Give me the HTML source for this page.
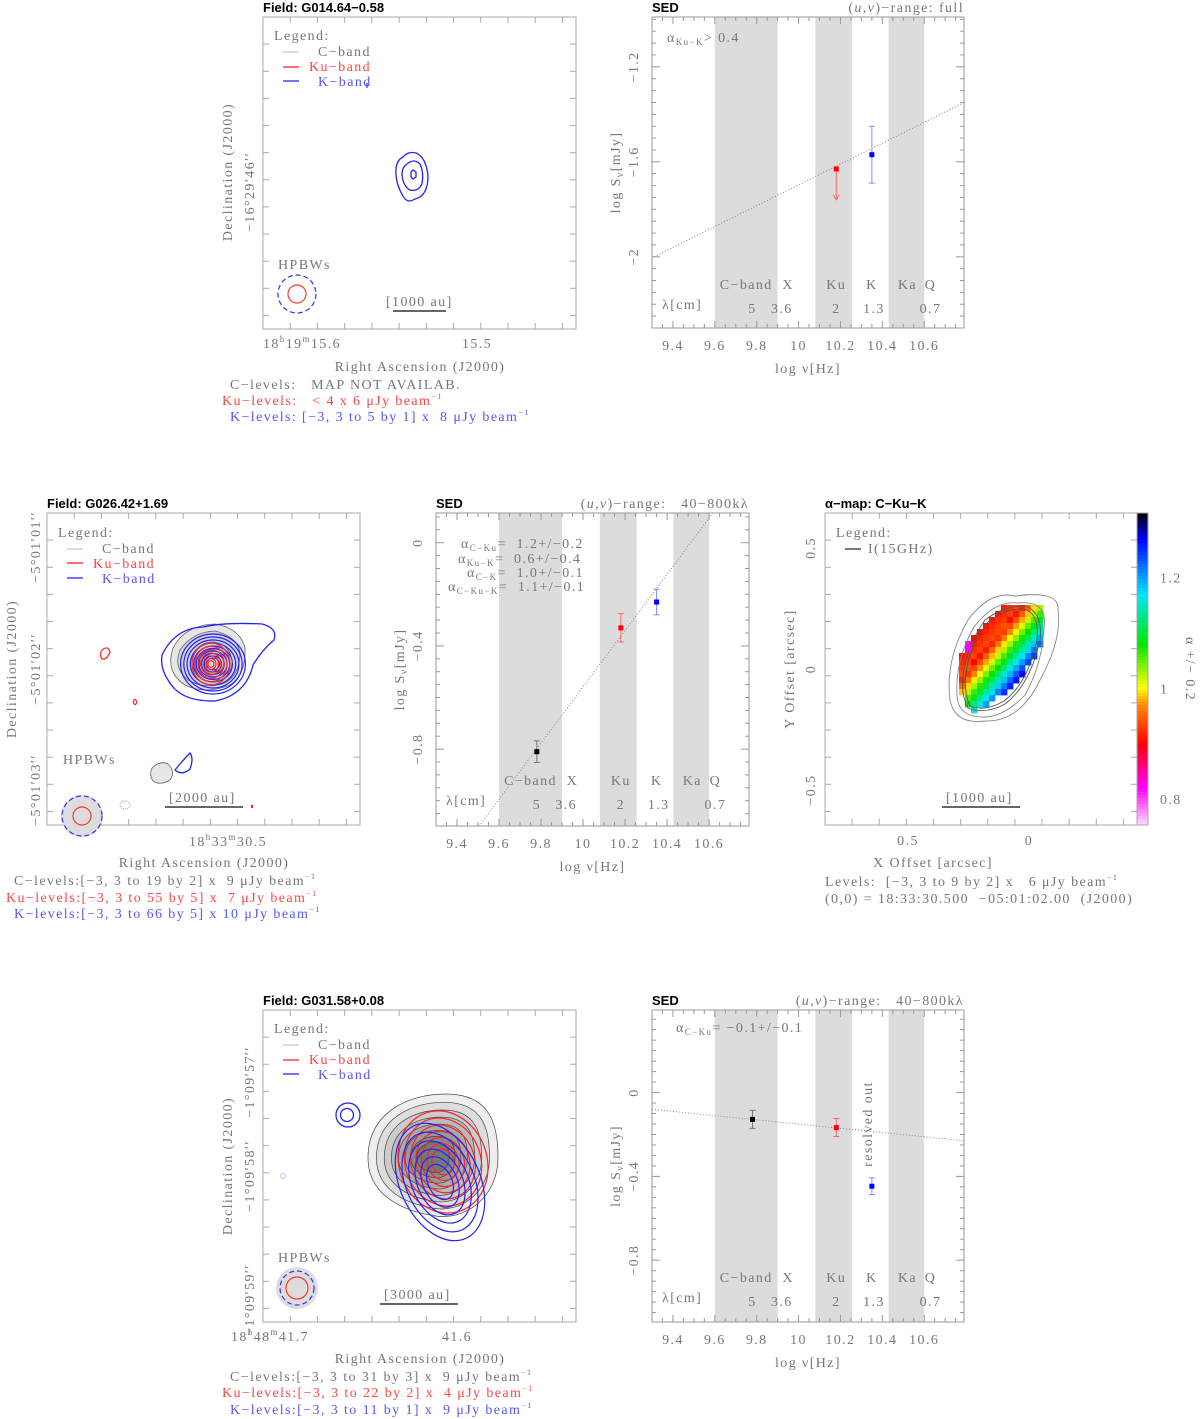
<!DOCTYPE html>
<html><head><meta charset="utf-8">
<style>
html,body{margin:0;padding:0;background:#fff;}
svg{display:block;font-family:"Liberation Serif",serif;}
text{white-space:pre;}
.t{fill:#777;font-size:14px;letter-spacing:1.4px;}
.b{fill:#000;font-size:13px;font-weight:bold;font-family:"Liberation Sans",sans-serif;}
.r{fill:#f44;}
.bl{fill:#55f;}
</style></head>
<body>
<svg id="fig" width="1200" height="1419" viewBox="0 0 1200 1419" xmlns="http://www.w3.org/2000/svg" xml:space="preserve">
<g id="maps"></g>
<g id="seds"></g>

<!-- ===== Panel 1 map ===== -->
<g>
 <text class="b" x="263" y="12">Field: G014.64−0.58</text>
 <rect x="263" y="17" width="313" height="312" fill="none" stroke="#aaa"/>
 <g id="ticks1"></g>
 <text class="t" x="274" y="40">Legend:</text>
 <line x1="283" y1="52" x2="299" y2="52" stroke="#bbb"/>
 <text class="t" x="318" y="56">C−band</text>
 <line x1="283" y1="67" x2="299" y2="67" stroke="#f44" stroke-width="1.5"/>
 <text class="t r" x="309" y="71">Ku−band</text>
 <line x1="283" y1="81" x2="299" y2="81" stroke="#44f" stroke-width="1.5"/>
 <text class="t bl" x="318" y="86">K−band</text>
 <line x1="367" y1="83" x2="367" y2="88" stroke="#22f" stroke-width="1.2"/>
 <g fill="none" stroke="#22f" stroke-width="1.3">
  <path d="M403,157 Q408,151 416,153 Q426,157 428,176 Q428,196 415,199 Q407,204 403,196 Q395,183 396,168 Q397,160 403,157Z"/>
  <path d="M407,164 Q414,158 420,164 Q424,172 422,184 Q418,192 410,190 Q403,186 402,175 Q402,167 407,164Z"/>
  <path d="M413,170 L416,172 L416,177 L413,179 L411,177 L411,172Z"/>
 </g>
 <text class="t" x="278" y="269">HPBWs</text>
 <circle cx="297" cy="294" r="19" fill="none" stroke="#33f" stroke-dasharray="5,3" stroke-width="1.2"/>
 <circle cx="297" cy="294" r="9" fill="none" stroke="#f33" stroke-width="1.2"/>
 <text class="t" x="386" y="306">[1000 au]</text>
 <line x1="393" y1="311" x2="446" y2="311" stroke="#333" stroke-width="1.5"/>
 <text class="t" x="302" y="348" text-anchor="middle">18<tspan font-size="9" dy="-6">h</tspan><tspan dy="6">19</tspan><tspan font-size="9" dy="-6">m</tspan><tspan dy="6">15.6</tspan></text>
 <text class="t" x="477" y="348" text-anchor="middle">15.5</text>
 <text class="t" x="420" y="371" text-anchor="middle" font-size="15">Right Ascension (J2000)</text>
 <text class="t" transform="translate(232,172) rotate(-90)" text-anchor="middle" font-size="15">Declination (J2000)</text>
 <text class="t" transform="translate(254,192) rotate(-90)" text-anchor="middle">−16°29′46′′</text>
 <text class="t" x="230" y="389" font-size="12.5">C−levels:   MAP NOT AVAILAB.</text>
 <text class="t r" x="222" y="405" font-size="12.5">Ku−levels:   &lt; 4 x 6 μJy beam<tspan font-size="8" dy="-6">−1</tspan></text>
 <text class="t bl" x="230" y="421" font-size="12.5">K−levels: [−3, 3 to 5 by 1] x  8 μJy beam<tspan font-size="8" dy="-6">−1</tspan></text>
</g>

<!-- ===== Panel 2 map ===== -->
<g>
 <text class="b" x="47" y="508">Field: G026.42+1.69</text>
 <rect x="47" y="513" width="313" height="312" fill="none" stroke="#aaa"/>
 <g id="ticks2"></g>
 <text class="t" x="58" y="537">Legend:</text>
 <line x1="67" y1="549" x2="83" y2="549" stroke="#bbb"/>
 <text class="t" x="102" y="553">C−band</text>
 <line x1="67" y1="563" x2="83" y2="563" stroke="#f44" stroke-width="1.5"/>
 <text class="t r" x="93" y="568">Ku−band</text>
 <line x1="67" y1="578" x2="83" y2="578" stroke="#44f" stroke-width="1.5"/>
 <text class="t bl" x="102" y="583">K−band</text>
 <g>
  <path d="M173,648 Q185,625 215,624 Q240,628 245,648 Q246,675 230,685 Q205,695 185,685 Q165,672 173,648Z" fill="#e6e6e6" stroke="#666" stroke-width="0.8"/>
  <path d="M180,650 Q192,632 215,631 Q236,636 240,652 Q240,675 225,683 Q205,690 188,680 Q173,668 180,650Z" fill="#d4d4d4" stroke="#666" stroke-width="0.8"/>
  <path d="M162,655 Q175,628 203,627 Q225,622 262,624 Q278,628 274,640 Q262,650 253,665 Q246,695 215,701 Q180,702 168,680 Q160,668 162,655Z" fill="none" stroke="#22f" stroke-width="1.3"/>
  <g id="c2rings" fill="none"></g>
  <path d="M102,650 Q108,645 110,652 Q107,660 102,659 Q99,655 102,650Z" fill="none" stroke="#f22" stroke-width="1.2"/>
  <ellipse cx="135" cy="702" rx="1.5" ry="2.5" fill="none" stroke="#f22" stroke-width="1.2"/>
  <path d="M152,768 Q160,760 168,764 Q176,772 170,780 Q160,786 153,781 Q149,775 152,768Z" fill="#e6e6e6" stroke="#666" stroke-width="0.8"/>
  <path d="M175,770 Q183,760 190,753 Q194,758 190,769 Q182,776 175,770Z" fill="none" stroke="#22f" stroke-width="1.3"/>
  <ellipse cx="125" cy="805" rx="5" ry="4" fill="none" stroke="#99f" stroke-dasharray="1,1"/>
  <rect x="251" y="805" width="2" height="3" fill="#f22"/>
 </g>
 <text class="t" x="63" y="764">HPBWs</text>
 <circle cx="82" cy="816" r="21" fill="#ddd"/>
 <circle cx="82" cy="816" r="20" fill="none" stroke="#33f" stroke-dasharray="5,3" stroke-width="1.2"/>
 <circle cx="82" cy="816" r="9" fill="none" stroke="#f33" stroke-width="1.2"/>
 <text class="t" x="169" y="802">[2000 au]</text>
 <line x1="165" y1="807" x2="243" y2="807" stroke="#333" stroke-width="1.5"/>
 <text class="t" x="228" y="846" text-anchor="middle">18<tspan font-size="9" dy="-6">h</tspan><tspan dy="6">33</tspan><tspan font-size="9" dy="-6">m</tspan><tspan dy="6">30.5</tspan></text>
 <text class="t" x="204" y="867" text-anchor="middle" font-size="15">Right Ascension (J2000)</text>
 <text class="t" transform="translate(16,669) rotate(-90)" text-anchor="middle" font-size="15">Declination (J2000)</text>
 <text class="t" transform="translate(40,547) rotate(-90)" text-anchor="middle">−5°01′01′′</text>
 <text class="t" transform="translate(40,669) rotate(-90)" text-anchor="middle">−5°01′02′′</text>
 <text class="t" transform="translate(40,790) rotate(-90)" text-anchor="middle">−5°01′03′′</text>
 <text class="t" x="14" y="885" font-size="12.5">C−levels:[−3, 3 to 19 by 2] x  9 μJy beam<tspan font-size="8" dy="-6">−1</tspan></text>
 <text class="t r" x="6" y="902" font-size="12.5">Ku−levels:[−3, 3 to 55 by 5] x  7 μJy beam<tspan font-size="8" dy="-6">−1</tspan></text>
 <text class="t bl" x="14" y="918" font-size="12.5">K−levels:[−3, 3 to 66 by 5] x 10 μJy beam<tspan font-size="8" dy="-6">−1</tspan></text>
</g>

<!-- ===== Alpha map ===== -->
<g>
 <text class="b" x="825" y="508">α−map: C−Ku−K</text>
 <rect x="825" y="513" width="312" height="312" fill="none" stroke="#aaa"/>
 <g id="ticks3"></g>
 <g id="alphaPix"></g>
 <g fill="none" stroke="#888" stroke-width="0.9">
  <path d="M968,620 Q990,590 1015,596 Q1060,590 1058,610 Q1062,640 1040,680 Q1020,722 985,721 Q955,725 950,700 Q945,660 968,620Z"/>
  <path d="M974,627 Q995,600 1018,603 Q1048,600 1044,628 Q1042,665 1025,695 Q1005,716 985,717 Q958,718 957,695 Q955,660 974,627Z"/>
  <path d="M985,620 Q1005,605 1025,606 Q1043,612 1040,640 Q1030,685 1005,704 Q985,715 968,708 Q958,690 966,660 Q972,638 985,620Z" stroke="#555"/>
  <path d="M988,622 Q1006,608 1024,609 Q1040,614 1037,640 Q1028,683 1004,701 Q985,712 970,706 Q962,690 968,662 Q974,640 988,622Z" stroke="#555"/>
 </g>
 <text class="t" x="836" y="537">Legend:</text>
 <line x1="845" y1="549" x2="861" y2="549" stroke="#222" stroke-width="1.2"/>
 <text class="t" x="868" y="553">I(15GHz)</text>
 <text class="t" x="946" y="802">[1000 au]</text>
 <line x1="942" y1="807" x2="1020" y2="807" stroke="#333" stroke-width="1.5"/>
 <g id="cbar"></g>
 <text class="t" transform="translate(1186,669) rotate(90)" text-anchor="middle">α +/− 0.2</text>
 <text class="t" x="908" y="845" text-anchor="middle">0.5</text>
 <text class="t" x="1029" y="845" text-anchor="middle">0</text>
 <text class="t" x="933" y="867" text-anchor="middle" font-size="15">X Offset [arcsec]</text>
 <text class="t" transform="translate(794,669) rotate(-90)" text-anchor="middle" font-size="15">Y Offset [arcsec]</text>
 <text class="t" transform="translate(815,548) rotate(-90)" text-anchor="middle">0.5</text>
 <text class="t" transform="translate(815,669) rotate(-90)" text-anchor="middle">0</text>
 <text class="t" transform="translate(815,790) rotate(-90)" text-anchor="middle">−0.5</text>
 <text class="t" x="825" y="886" font-size="12.5">Levels:  [−3, 3 to 9 by 2] x   6 μJy beam<tspan font-size="8" dy="-6">−1</tspan></text>
 <text class="t" x="825" y="903" font-size="12.5">(0,0) = 18:33:30.500  −05:01:02.00  (J2000)</text>
</g>

<!-- ===== Panel 3 map ===== -->
<g>
 <text class="b" x="263" y="1005">Field: G031.58+0.08</text>
 <rect x="263" y="1010" width="313" height="312" fill="none" stroke="#aaa"/>
 <g id="ticks4"></g>
 <text class="t" x="274" y="1033">Legend:</text>
 <line x1="283" y1="1045" x2="299" y2="1045" stroke="#bbb"/>
 <text class="t" x="318" y="1049">C−band</text>
 <line x1="283" y1="1060" x2="299" y2="1060" stroke="#f44" stroke-width="1.5"/>
 <text class="t r" x="309" y="1064">Ku−band</text>
 <line x1="283" y1="1074" x2="299" y2="1074" stroke="#44f" stroke-width="1.5"/>
 <text class="t bl" x="318" y="1079">K−band</text>
 <g id="c4rings"></g>
 <circle cx="348" cy="1115" r="12" fill="none" stroke="#22f" stroke-width="1.3"/>
 <circle cx="347" cy="1115" r="6.5" fill="none" stroke="#22f" stroke-width="1.3"/>
 <circle cx="283" cy="1176" r="2.5" fill="none" stroke="#bbf"/>
 <text class="t" x="278" y="1262">HPBWs</text>
 <circle cx="297" cy="1288" r="21" fill="#ddd"/>
 <circle cx="297" cy="1288" r="17" fill="none" stroke="#33f" stroke-dasharray="5,3" stroke-width="1.2"/>
 <circle cx="297" cy="1288" r="11" fill="none" stroke="#f33" stroke-width="1.2"/>
 <text class="t" x="384" y="1299">[3000 au]</text>
 <line x1="380" y1="1304" x2="458" y2="1304" stroke="#333" stroke-width="1.5"/>
 <text class="t" x="270" y="1341" text-anchor="middle">18<tspan font-size="9" dy="-6">h</tspan><tspan dy="6">48</tspan><tspan font-size="9" dy="-6">m</tspan><tspan dy="6">41.7</tspan></text>
 <text class="t" x="457" y="1341" text-anchor="middle">41.6</text>
 <text class="t" x="420" y="1363" text-anchor="middle" font-size="15">Right Ascension (J2000)</text>
 <text class="t" transform="translate(232,1166) rotate(-90)" text-anchor="middle" font-size="15">Declination (J2000)</text>
 <text class="t" transform="translate(254,1082) rotate(-90)" text-anchor="middle">−1°09′57′′</text>
 <text class="t" transform="translate(254,1176) rotate(-90)" text-anchor="middle">−1°09′58′′</text>
 <text class="t" transform="translate(254,1300) rotate(-90)" text-anchor="middle">−1°09′59′′</text>
 <text class="t" x="230" y="1381" font-size="12.5">C−levels:[−3, 3 to 31 by 3] x  9 μJy beam<tspan font-size="8" dy="-6">−1</tspan></text>
 <text class="t r" x="222" y="1397" font-size="12.5">Ku−levels:[−3, 3 to 22 by 2] x  4 μJy beam<tspan font-size="8" dy="-6">−1</tspan></text>
 <text class="t bl" x="230" y="1414" font-size="12.5">K−levels:[−3, 3 to 11 by 1] x  9 μJy beam<tspan font-size="8" dy="-6">−1</tspan></text>
</g>
</svg>

<script>
// ---------- SED data ----------
const bandNames = ["C−band","X","Ku","K","Ka","Q"];
const bandNameFreq = [9.75,9.95,10.18,10.35,10.52,10.63];
const lambdaLabels = ["5","3.6","2","1.3","0.7"];
const lambdaFreq = [9.78,9.92,10.18,10.36,10.63];
const shadeStart = [9.6,10.08,10.43];
const shadeEnd = [9.9,10.255,10.6];
const xTicks = [9.4,9.6,9.8,10,10.2,10.4,10.6];

const sed1Freq = [10.18,10.35];
const sed1Flux = [-1.63,-1.57];
const sed1Err  = [0,0.12];
const sed1Color = ["#f00","#00f"];
const sed1Upper = [true,false];
const sed1Line = [[9.31,-2.0],[10.80,-1.346]];
const sed1YTicks = [-2,-1.6,-1.2];

const sed2Freq = [9.78,10.18,10.35];
const sed2Flux = [-0.81,-0.33,-0.23];
const sed2Err  = [0.042,0.055,0.05];
const sed2Line = [[9.505,-1.098],[10.618,0.115]];
const sed2YTicks = [-0.8,-0.4,0];

const sed3Freq = [9.78,10.18,10.35];
const sed3Flux = [-0.128,-0.167,-0.447];
const sed3Err  = [0.043,0.043,0.04];
const sed3Line = [[9.3,-0.08],[10.79,-0.23]];
const sed3YTicks = [-0.8,-0.4,0];

const NS="http://www.w3.org/2000/svg";
function mk(parent,tag,attrs,text){
  const e=document.createElementNS(NS,tag);
  for(const k in attrs) e.setAttribute(k,attrs[k]);
  if(text!==undefined) e.textContent=text;
  parent.appendChild(e); return e;
}
function sed(id,box,yr,freq,flux,err,colors,upper,line,yticks,rangeTxt,alphaLines){
  const g=mk(document.getElementById('seds'),'g',{});
  
  
  const [L,T,W,H]=box, xr=[9.3,10.79];
  const X=v=>L+(v-xr[0])/(xr[1]-xr[0])*W;
  const Y=v=>T+(yr[1]-v)/(yr[1]-yr[0])*H;
  for(let i=0;i<shadeStart.length;i++){
    const r=mk(g,'rect',{x:X(shadeStart[i]),y:T,width:X(shadeEnd[i])-X(shadeStart[i]),height:H,fill:'#dcdcdc'});
    
    
  }
  const fr=mk(g,'rect',{x:L,y:T,width:W,height:H,fill:'none',stroke:'#999'});
  
  
  for(let v=9.3;v<=10.79;v+=0.05){
    const len=(Math.abs((v*10)%2)<0.01||Math.abs((v*10)%2-2)<0.01)?7:4;
    mk(g,'line',{x1:X(v),y1:T+H,x2:X(v),y2:T+H-len,stroke:'#999'});
    mk(g,'line',{x1:X(v),y1:T,x2:X(v),y2:T+len,stroke:'#999'});
  }
  const step=0.05;
  for(let v=Math.ceil(yr[0]/step)*step;v<=yr[1];v+=step){
    const maj=yticks.some(t=>Math.abs(t-v)<1e-6);
    const len=maj?8:4;
    mk(g,'line',{x1:L,y1:Y(v),x2:L+len,y2:Y(v),stroke:'#999'});
    mk(g,'line',{x1:L+W,y1:Y(v),x2:L+W-len,y2:Y(v),stroke:'#999'});
  }
  xTicks.forEach(v=>{
    const t=mk(g,'text',{x:X(v),y:T+H+22,class:'t','text-anchor':'middle'},String(v));
    
    
  });
  yticks.forEach(v=>{
    const t=mk(g,'text',{class:'t','text-anchor':'middle',transform:`translate(${L-14},${Y(v)}) rotate(-90)`},v===0?'0':String(v).replace('-','−'));
    
    
  });
  const xt=mk(g,'text',{x:L+W/2,y:T+H+45,class:'t','text-anchor':'middle','font-size':15},'log ν[Hz]');
  
  
  const yt=mk(g,'text',{class:'t','text-anchor':'middle','font-size':15,transform:`translate(${L-32},${T+H/2}) rotate(-90)`});
  yt.innerHTML='log S<tspan font-size="10" dy="3">ν</tspan><tspan dy="-3">[mJy]</tspan>';
  
  
  const ti=mk(g,'text',{x:L,y:T-5,class:'b'},'SED');
  
  
  const rt=mk(g,'text',{x:L+W,y:T-5,class:'t','text-anchor':'end','font-size':13});
  rt.innerHTML='(<tspan font-style="italic">u,v</tspan>)−range: '+rangeTxt;
  
  
  bandNames.forEach((n,i)=>{
    const t=mk(g,'text',{x:X(bandNameFreq[i]),y:T+272,class:'t','text-anchor':'middle','letter-spacing':'0.8px'},n);
    
    
  });
  lambdaLabels.forEach((n,i)=>{
    const t=mk(g,'text',{x:X(lambdaFreq[i]),y:T+296,class:'t','text-anchor':'middle'},n);
    
    
  });
  const lt=mk(g,'text',{x:L+10,y:T+292,class:'t'},'λ[cm]');
  
  
  const fl=mk(g,'line',{x1:X(line[0][0]),y1:Y(line[0][1]),x2:X(line[1][0]),y2:Y(line[1][1]),stroke:'#888','stroke-dasharray':'1,2'});
  
  
  alphaLines.forEach(a=>{
    const t=mk(g,'text',{x:a[0],y:a[1],class:'t','font-size':13});
    t.innerHTML=a[2];
    
    
  });
  freq.forEach((f,i)=>{
    const c=colors[i], x=X(f), y=Y(flux[i]);
    const ec=c==='#000'?'#777':(c==='#f00'?'#f66':'#88f');
    if(upper&&upper[i]){
      const a=mk(g,'line',{x1:x,y1:y,x2:x,y2:Y(flux[i]-0.13),stroke:ec});
      
      
      mk(g,'path',{d:`M${x-3},${Y(flux[i]-0.13)-5} L${x},${Y(flux[i]-0.13)} L${x+3},${Y(flux[i]-0.13)-5}`,fill:'none',stroke:ec});
    } else if(err[i]>0){
      const eb=mk(g,'path',{d:`M${x},${Y(flux[i]+err[i])}V${Y(flux[i]-err[i])}M${x-3},${Y(flux[i]+err[i])}h6M${x-3},${Y(flux[i]-err[i])}h6`,fill:'none',stroke:ec});
      
      
    }
    const p=mk(g,'rect',{x:x-2.5,y:y-2.5,width:5,height:5,fill:c});
    
    
  });
  return {X,Y,g};
}
const a1=[[667,42,'α<tspan font-size="9" dy="3">Ku−K</tspan><tspan dy="-3">&gt; 0.4</tspan>']];
sed('sed-g014',[652,17,312,311],[-2.3,-0.99],sed1Freq,sed1Flux,sed1Err,sed1Color,sed1Upper,sed1Line,sed1YTicks,'full',a1);
const a2=[[461,548,'α<tspan font-size="9" dy="3">C−Ku</tspan><tspan dy="-3">=  1.2+/−0.2</tspan>'],
          [458,563,'α<tspan font-size="9" dy="3">Ku−K</tspan><tspan dy="-3">=  0.6+/−0.4</tspan>'],
          [467,577,'α<tspan font-size="9" dy="3">C−K</tspan><tspan dy="-3">=  1.0+/−0.1</tspan>'],
          [448,591,'α<tspan font-size="9" dy="3">C−Ku−K</tspan><tspan dy="-3">=  1.1+/−0.1</tspan>']];
sed('sed-g026',[436,513,313,313],[-1.098,0.115],sed2Freq,sed2Flux,sed2Err,["#000","#f00","#00f"],null,sed2Line,sed2YTicks,'  40−800kλ',a2);
const a3=[[676,1032,'α<tspan font-size="9" dy="3">C−Ku</tspan><tspan dy="-3">= −0.1+/−0.1</tspan>']];
const s3=sed('sed-g031',[652,1010,312,312],[-1.095,0.394],sed3Freq,sed3Flux,sed3Err,["#000","#f00","#00f"],null,sed3Line,sed3YTicks,'  40−800kλ',a3);
const ro=mk(s3.g,'text',{class:'t','font-size':13,'text-anchor':'middle',transform:'translate(872,1124) rotate(-90)'},'resolved out');



// ---------- map ticks ----------
function mapTicks(id,L,T,W,H){
  const g=document.getElementById(id);
  for(let i=1;i<12;i++){
    const x=L+i*W/11.5, y=T+i*H/11.5;
    mk(g,'line',{x1:x,y1:T+H,x2:x,y2:T+H-6,stroke:'#aaa'});
    mk(g,'line',{x1:x,y1:T,x2:x,y2:T+6,stroke:'#aaa'});
    mk(g,'line',{x1:L,y1:y,x2:L+6,y2:y,stroke:'#aaa'});
    mk(g,'line',{x1:L+W,y1:y,x2:L+W-6,y2:y,stroke:'#aaa'});
  }
}
mapTicks('ticks1',263,17,313,312);
mapTicks('ticks2',47,513,313,312);
mapTicks('ticks3',825,513,312,312);
mapTicks('ticks4',263,1010,313,312);

// ---------- map 2 nested rings ----------
const c2=document.getElementById('c2rings');
const kRingsR=[30,27,24,21,18,15.5,13,10.5,8,6];
const kuRingsR=[19,16,13,10,7.5,5,3];
kRingsR.forEach(r=>{const e=mk(c2,'ellipse',{cx:213,cy:664,rx:r*1.08,ry:r,fill:'none',stroke:'#22f','stroke-width':1.2});
 });
[20,12].forEach(r=>mk(c2,'ellipse',{cx:212,cy:662,rx:r,ry:r,fill:'none',stroke:'#666','stroke-width':0.8}));
kuRingsR.forEach(r=>{const e=mk(c2,'ellipse',{cx:211,cy:664,rx:r,ry:r*1.1,fill:'none',stroke:'#f22','stroke-width':1.1});
 });

// ---------- map 4 contours ----------
const c4=document.getElementById('c4rings');
const cLevels=[1,0.87,0.75,0.64,0.53,0.43,0.34,0.25];
cLevels.forEach((s,i)=>{
  const gray=Math.round(238-i*17);
  const e=mk(c4,'path',{d:blob(433,1158,65*s,64*s),fill:`rgb(${gray},${gray},${gray})`,stroke:'#444','stroke-width':0.7});
  
});
const kuLevels=[1,0.86,0.72,0.6,0.48,0.36,0.25];
kuLevels.forEach(s=>{
  const e=mk(c4,'ellipse',{cx:443,cy:1162,rx:44*s,ry:52*s,fill:'none',stroke:'#f22','stroke-width':1.2,transform:'rotate(-20 443 1162)'});
  
});
const kLevels=[1,0.85,0.7,0.56,0.43,0.3];
kLevels.forEach(s=>{
  const e=mk(c4,'ellipse',{cx:440,cy:1182,rx:40*s,ry:62*s,fill:'none',stroke:'#22f','stroke-width':1.2,transform:'rotate(-25 440 1182)'});
  
});
function blob(cx,cy,rx,ry){
  return `M${cx-rx},${cy} C${cx-rx},${cy-ry*0.7} ${cx-rx*0.4},${cy-ry} ${cx+rx*0.2},${cy-ry} C${cx+rx*0.9},${cy-ry} ${cx+rx},${cy-ry*0.5} ${cx+rx},${cy} C${cx+rx},${cy+ry*0.6} ${cx+rx*0.5},${cy+ry} ${cx},${cy+ry*0.9} C${cx-rx*0.6},${cy+ry*0.8} ${cx-rx},${cy+ry*0.5} ${cx-rx},${cy}Z`;
}

// ---------- alpha map ----------
const cbTicks=[0.8,1,1.2];
const cbRange=[0.753,1.317];
const cmapStops=[[0.753,[255,220,255]],[0.82,[255,0,255]],[0.9,[255,0,0]],[0.97,[255,140,0]],[1.0,[255,255,0]],[1.08,[0,230,0]],[1.17,[0,230,255]],[1.27,[0,0,255]],[1.317,[0,0,0]]];
function cmap(v){
  for(let i=0;i<cmapStops.length-1;i++){
    const [a,ca]=cmapStops[i],[b,cb]=cmapStops[i+1];
    if(v<=b){const t=Math.max(0,(v-a)/(b-a));return `rgb(${ca.map((c,j)=>Math.round(c+(cb[j]-c)*t)).join(',')})`;}
  }
  return 'rgb(0,0,0)';
}
const cbg=document.getElementById('cbar');
const cbT=513,cbH=312;
for(let k=0;k<104;k++){
  const v=cbRange[1]-(k+0.5)/104*(cbRange[1]-cbRange[0]);
  mk(cbg,'rect',{x:1137,y:cbT+k*cbH/104,width:11,height:cbH/104+0.6,fill:cmap(v)});
}
mk(cbg,'rect',{x:1137,y:cbT,width:11,height:cbH,fill:'none',stroke:'#aaa'});
cbTicks.forEach(v=>{
  const y=cbT+(cbRange[1]-v)/(cbRange[1]-cbRange[0])*cbH;
  const t=mk(cbg,'text',{x:1160,y:y+5,class:'t'},String(v));
  
  
});
// alpha pixel footprint rows (top→bottom), 6px cells
const alphaRowStart=[1001,995,989,983,977,971,965,965,959,959,959,959,959,959,959,965,965,971];
const alphaRowEnd  =[1041,1043,1043,1043,1043,1041,1039,1037,1033,1029,1025,1021,1015,1009,1003,995,985,977];
const pg=document.getElementById('alphaPix');
const rowTop=605;
alphaRowStart.forEach((xs,r)=>{
  for(let x=xs;x<alphaRowEnd[r];x+=6){
    const y=rowTop+r*6;
    let v=1.0+0.0063*(x+3-977)+0.00533*(y+3-677);
    if(v<0.9) v=0.9+(v<0.75?0:0.04*((v-0.75)/0.15));
    if(x<967&&y>628&&y<652) v=0.82;
    const c=mk(pg,'rect',{x:x,y:y,width:6.4,height:6.4,fill:cmap(v)});
    
    
  }
});
</script>
</body></html>
